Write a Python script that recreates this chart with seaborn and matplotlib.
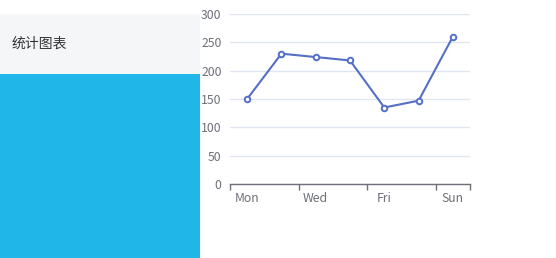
import matplotlib
matplotlib.use("Agg")
import matplotlib.pyplot as plt
import seaborn as sns
import pandas as pd
from matplotlib.patches import Rectangle

days = ["Mon", "Tue", "Wed", "Thu", "Fri", "Sat", "Sun"]
values = [150, 230, 224, 218, 135, 147, 260]
y_ticks = [0, 50, 100, 150, 200, 250, 300]
title_text = "统计图表"

sns.set_theme(style="white")
plt.rcParams['font.family'] = ['Noto Sans CJK SC', 'DejaVu Sans']

W, H = 556, 258
fig = plt.figure(figsize=(W / 100, H / 100), dpi=100)
fig.patch.set_facecolor("white")

# left panels
fig.patches.append(Rectangle((0, (H - 74) / H), 200 / W, 60 / H, transform=fig.transFigure,
                             facecolor="#f5f6f8", edgecolor="none", zorder=0))
fig.patches.append(Rectangle((0, 0), 200 / W, (H - 74) / H, transform=fig.transFigure,
                             facecolor="#21b6e8", edgecolor="none", zorder=0))
fig.text(12 / W, (H - 44) / H, title_text, fontsize=10, color="#333333",
         ha="left", va="center")

ax = fig.add_axes([230 / W, (H - 184) / H, 240 / W, 170 / H])
ax.set_facecolor("none")
df = pd.DataFrame({"day": days, "value": values})
df["pos"] = range(len(days))
sns.lineplot(data=df, x="pos", y="value", ax=ax, color="#5470c6", linewidth=1.5,
             marker="o", markersize=4.0, markerfacecolor="white",
             markeredgecolor="#5470c6", markeredgewidth=1.4, zorder=3)

ax.set_xlim(-0.5, len(days) - 0.5)
ax.set_ylim(0, 300)
ax.set_yticks(y_ticks)
ax.set_yticklabels([str(t) for t in y_ticks])
ax.grid(axis="y", color="#e0e6f1", linewidth=1)
ax.set_axisbelow(True)

label_pos = [0, 2, 4, 6]
ax.set_xticks(label_pos)
ax.set_xticklabels([days[i] for i in label_pos])
ax.set_xticks([-0.5, 1.5, 3.5, 5.5, 6.5], minor=True)
ax.tick_params(axis="x", which="major", bottom=True, length=0, pad=6, labelsize=8.8,
               labelcolor="#6e7079")
ax.tick_params(axis="x", which="minor", bottom=True, length=4, width=1, color="#6e7079",
               direction="out")
ax.tick_params(axis="y", length=0, pad=6, labelsize=8.8, labelcolor="#6e7079")
ax.set_xlabel("")
ax.set_ylabel("")

for s in ["top", "right", "left"]:
    ax.spines[s].set_visible(False)
ax.spines["bottom"].set_color("#6e7079")
ax.spines["bottom"].set_linewidth(1)

fig.savefig("out.png", dpi=100)
